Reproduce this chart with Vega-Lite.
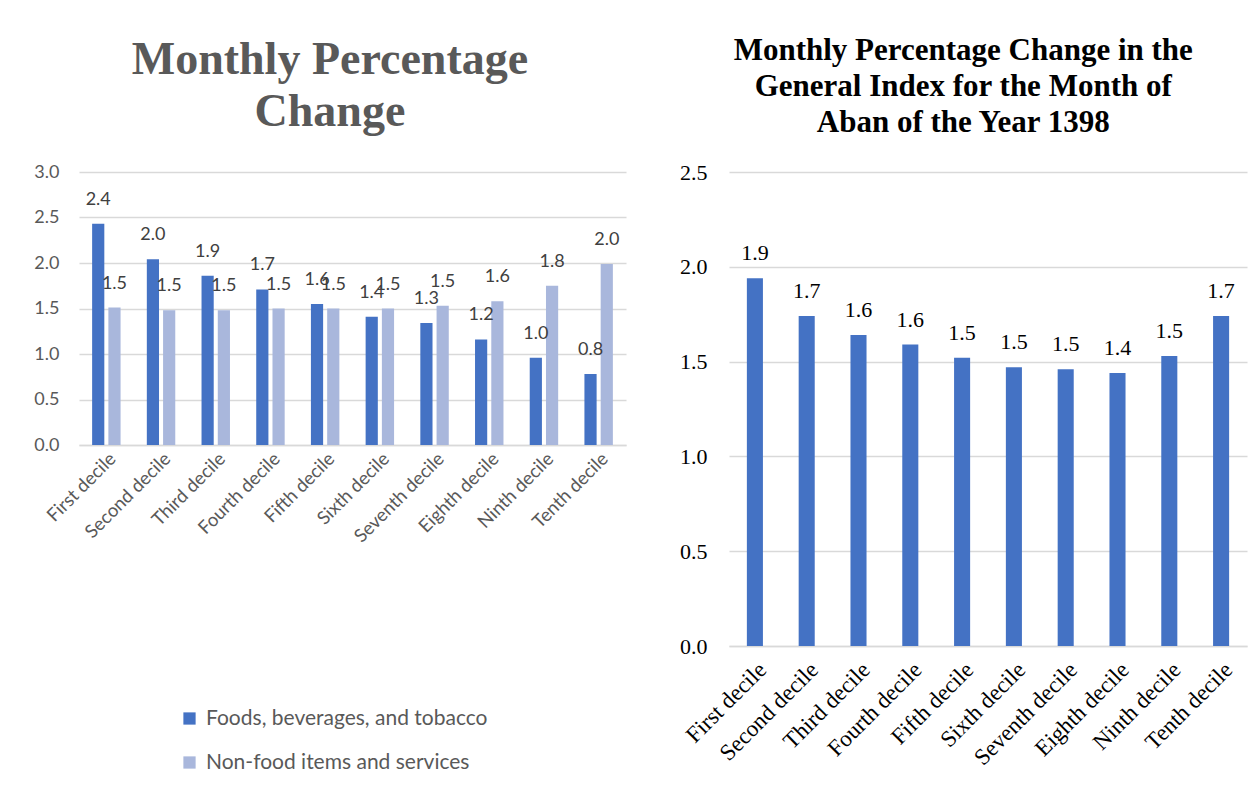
{
  "$schema": "https://vega.github.io/schema/vega-lite/v6.json",
  "background": "white",
  "padding": {"left": 33, "top": 35, "right": 10, "bottom": 0},
  "spacing": 53,
  "config": {
    "view": {"stroke": null},
    "axis": {"ticks": false, "gridColor": "#d9d9d9", "gridWidth": 1.5, "domainColor": "#d9d9d9", "domainWidth": 1.5}
  },
  "resolve": {"legend": {"color": "independent"}, "scale": {"color": "independent"}},
  "datasets": {
    "groups": [
      {"decile": "First decile", "series": "Foods, beverages, and tobacco", "value": 2.43},
      {"decile": "Second decile", "series": "Foods, beverages, and tobacco", "value": 2.04},
      {"decile": "Third decile", "series": "Foods, beverages, and tobacco", "value": 1.86},
      {"decile": "Fourth decile", "series": "Foods, beverages, and tobacco", "value": 1.71},
      {"decile": "Fifth decile", "series": "Foods, beverages, and tobacco", "value": 1.55},
      {"decile": "Sixth decile", "series": "Foods, beverages, and tobacco", "value": 1.41},
      {"decile": "Seventh decile", "series": "Foods, beverages, and tobacco", "value": 1.34},
      {"decile": "Eighth decile", "series": "Foods, beverages, and tobacco", "value": 1.16},
      {"decile": "Ninth decile", "series": "Foods, beverages, and tobacco", "value": 0.96},
      {"decile": "Tenth decile", "series": "Foods, beverages, and tobacco", "value": 0.78},
      {"decile": "First decile", "series": "Non-food items and services", "value": 1.51},
      {"decile": "Second decile", "series": "Non-food items and services", "value": 1.48},
      {"decile": "Third decile", "series": "Non-food items and services", "value": 1.48},
      {"decile": "Fourth decile", "series": "Non-food items and services", "value": 1.5},
      {"decile": "Fifth decile", "series": "Non-food items and services", "value": 1.5},
      {"decile": "Sixth decile", "series": "Non-food items and services", "value": 1.5},
      {"decile": "Seventh decile", "series": "Non-food items and services", "value": 1.53},
      {"decile": "Eighth decile", "series": "Non-food items and services", "value": 1.58},
      {"decile": "Ninth decile", "series": "Non-food items and services", "value": 1.75},
      {"decile": "Tenth decile", "series": "Non-food items and services", "value": 1.99}
    ],
    "general": [
      {"decile": "First decile", "value": 1.94},
      {"decile": "Second decile", "value": 1.74},
      {"decile": "Third decile", "value": 1.64},
      {"decile": "Fourth decile", "value": 1.59},
      {"decile": "Fifth decile", "value": 1.52},
      {"decile": "Sixth decile", "value": 1.47},
      {"decile": "Seventh decile", "value": 1.46},
      {"decile": "Eighth decile", "value": 1.44},
      {"decile": "Ninth decile", "value": 1.53},
      {"decile": "Tenth decile", "value": 1.74}
    ]
  },
  "hconcat": [
    {
      "width": 547,
      "height": 273,
      "data": {"name": "groups"},
      "title": {
        "text": ["Monthly Percentage", "Change"],
        "font": "Liberation Serif",
        "fontSize": 46,
        "fontWeight": "bold",
        "color": "#595959",
        "lineHeight": 52,
        "anchor": "middle",
        "frame": "bounds",
        "offset": 27
      },
      "encoding": {
        "x": {
          "field": "decile", "type": "nominal", "sort": null,
          "scale": {"paddingInner": 0.48, "paddingOuter": 0.24},
          "axis": {"title": null, "labelAngle": -45, "labelFont": "Lato", "labelFontSize": 18.5, "labelColor": "#595959", "labelPadding": 4, "labelDx": -4, "grid": false}
        },
        "xOffset": {"field": "series", "type": "nominal", "scale": {"paddingInner": 0.25}},
        "y": {
          "field": "value", "type": "quantitative",
          "scale": {"domain": [0, 3]},
          "axis": {"title": null, "values": [0, 0.5, 1, 1.5, 2, 2.5, 3], "format": ".1f", "labelFont": "Lato", "labelFontSize": 18, "labelColor": "#595959", "labelPadding": 20, "domain": false}
        }
      },
      "layer": [
        {
          "mark": {"type": "bar"},
          "encoding": {
            "color": {
              "field": "series", "type": "nominal",
              "scale": {"range": ["#4472c4", "#a9b7dc"]},
              "legend": {
                "title": null, "orient": "none", "legendX": 100, "legendY": 536, "direction": "vertical",
                "symbolType": "square", "symbolSize": 150, "symbolStrokeWidth": 0, "symbolOpacity": 1,
                "labelFont": "Lato", "labelFontSize": 21, "labelColor": "#595959", "rowPadding": 22, "labelOffset": 6, "labelLimit": 0
              }
            }
          }
        },
        {
          "mark": {"type": "text", "font": "Lato", "fontSize": 18, "color": "#404040", "baseline": "alphabetic", "dy": -19},
          "encoding": {"text": {"field": "value", "type": "quantitative", "format": ".1f"}}
        }
      ]
    },
    {
      "width": 518,
      "height": 474,
      "data": {"name": "general"},
      "title": {
        "text": ["Monthly Percentage Change in the", "General Index for the Month of", "Aban of the Year 1398"],
        "font": "Liberation Serif",
        "fontSize": 31,
        "fontWeight": "bold",
        "color": "#000000",
        "lineHeight": 36,
        "anchor": "middle",
        "frame": "bounds",
        "offset": 22
      },
      "encoding": {
        "x": {
          "field": "decile", "type": "nominal", "sort": null,
          "scale": {"paddingInner": 0.69, "paddingOuter": 0.345},
          "axis": {"title": null, "labelAngle": -45, "labelFont": "Liberation Serif", "labelFontSize": 23, "labelColor": "#000000", "labelPadding": 12, "labelDx": -4, "grid": false}
        },
        "y": {
          "field": "value", "type": "quantitative",
          "scale": {"domain": [0, 2.5]},
          "axis": {"title": null, "values": [0, 0.5, 1, 1.5, 2, 2.5], "format": ".1f", "labelFont": "Liberation Serif", "labelFontSize": 22, "labelColor": "#000000", "labelPadding": 22, "domain": false}
        }
      },
      "layer": [
        {"mark": {"type": "bar", "color": "#4472c4"}},
        {
          "mark": {"type": "text", "font": "Liberation Serif", "fontSize": 22, "color": "#000000", "baseline": "alphabetic", "dy": -18},
          "encoding": {"text": {"field": "value", "type": "quantitative", "format": ".1f"}}
        }
      ]
    }
  ]
}
